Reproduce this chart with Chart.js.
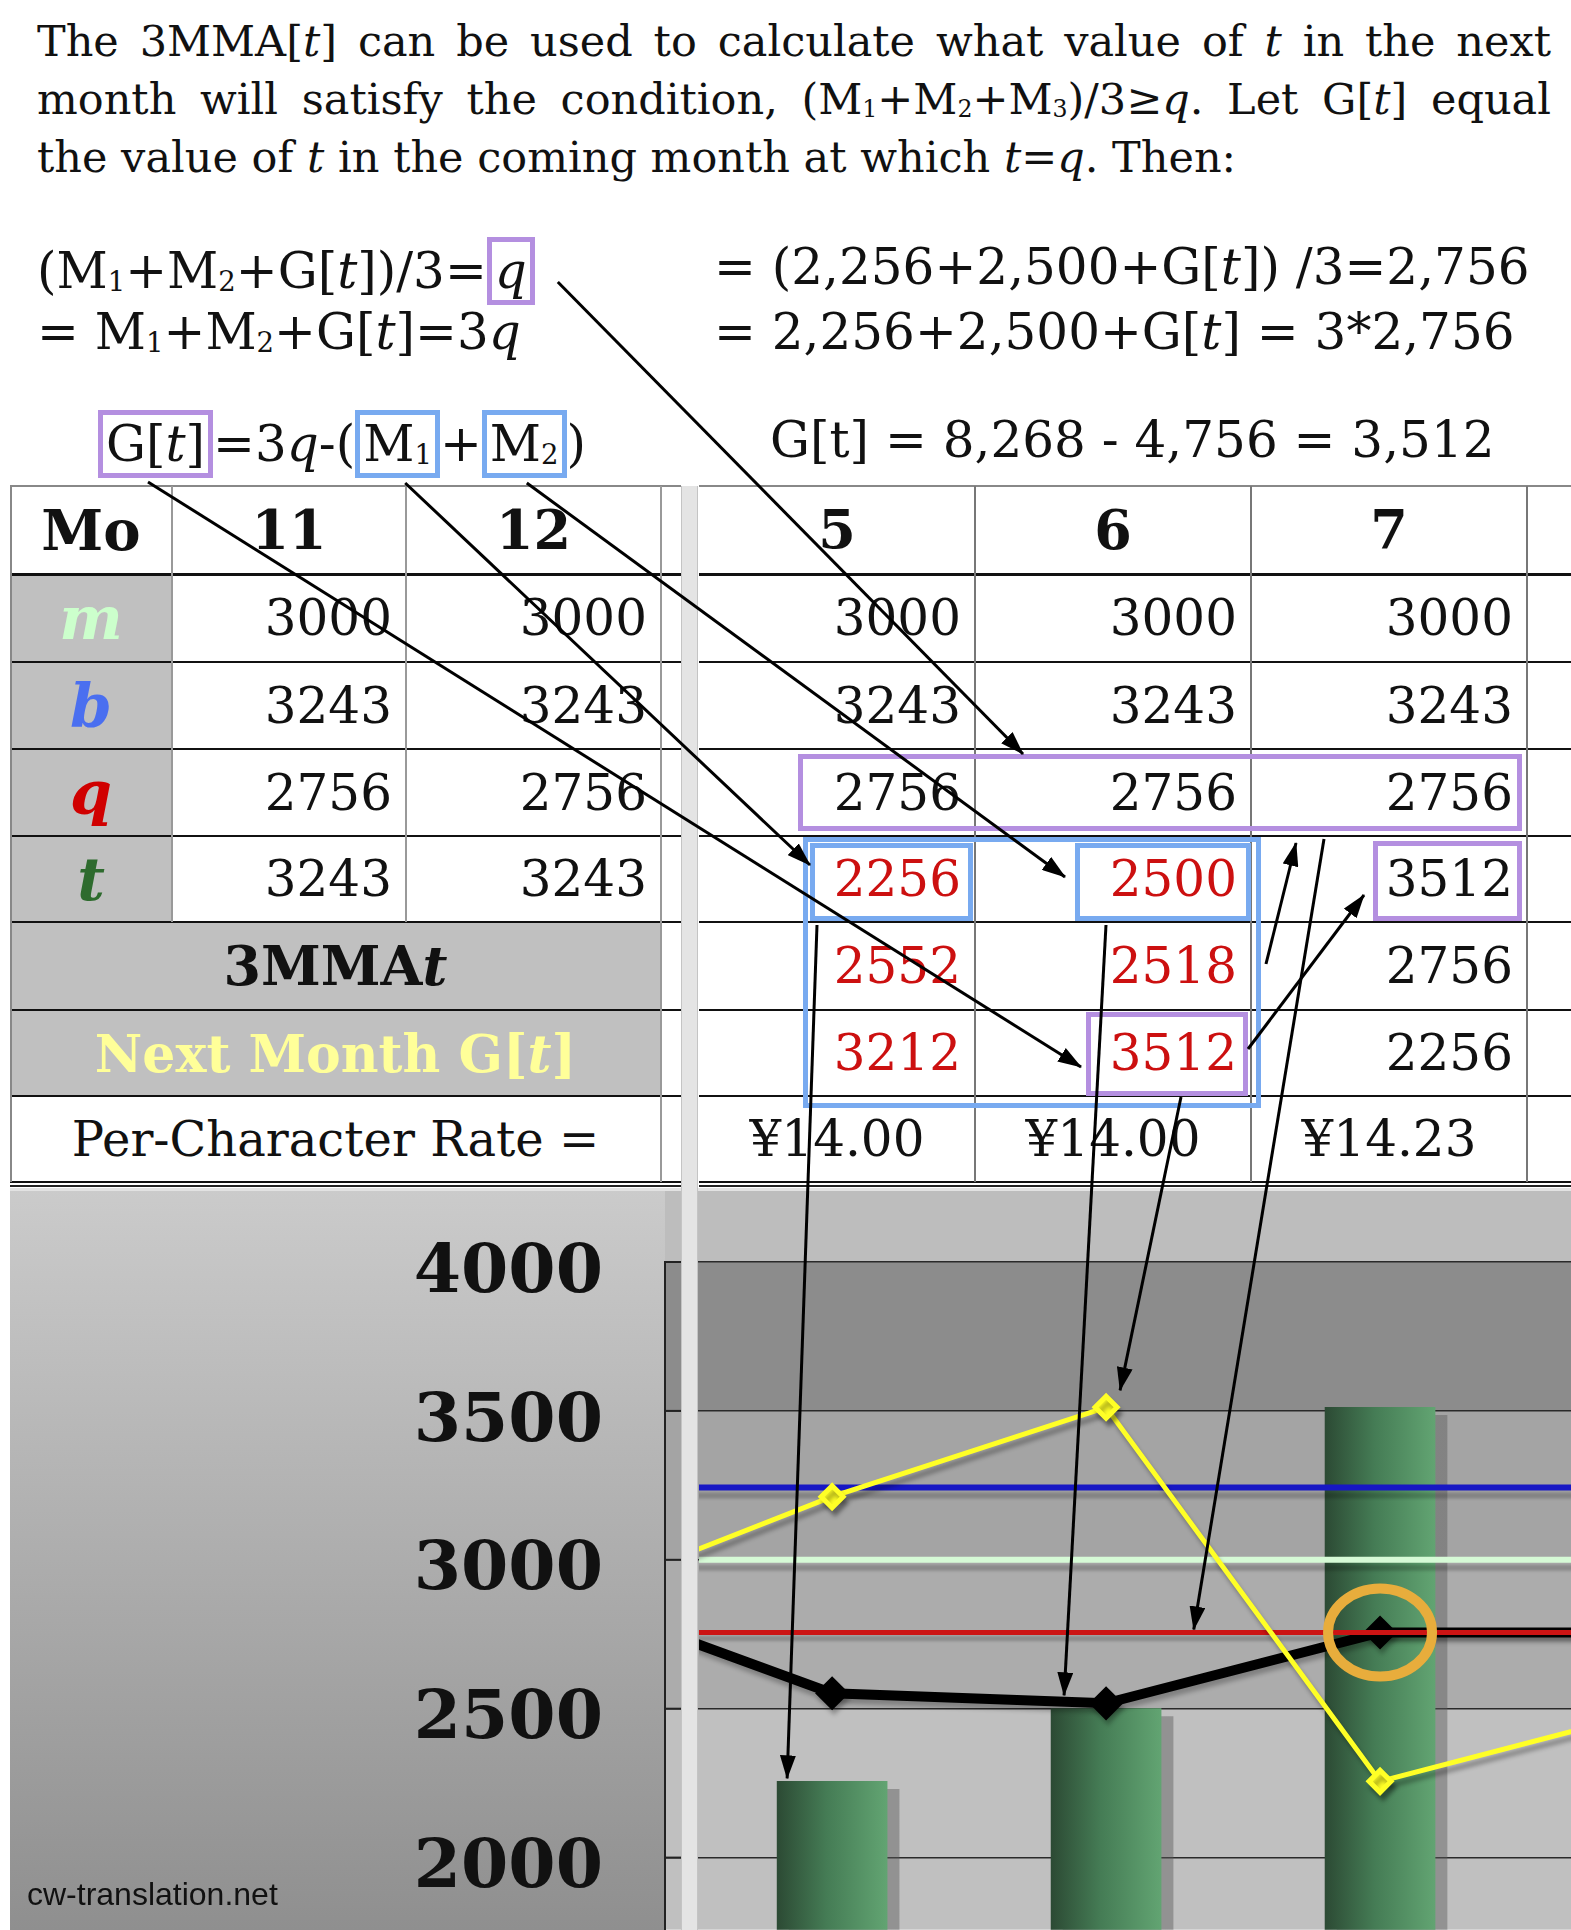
<!DOCTYPE html>
<html>
<head>
<meta charset="utf-8">
<title>3MMA next month target</title>
<script src="https://cdn.jsdelivr.net/npm/chart.js@4.4.1/dist/chart.umd.min.js"></script>
<style>
  html, body { margin: 0; padding: 0; }
  body { width: 1571px; height: 1930px; position: relative; overflow: hidden; background: #fff;
         font-family: "DejaVu Serif", serif; color: #111; }
  #intro { position: absolute; left: 37px; top: 12px; width: 1514px; font-size: 43px; line-height: 58px;
           text-align: justify; }
  sub { font-size: 0.55em; vertical-align: -0.12em; line-height: 0; }
  .eq { position: absolute; font-size: 50px; line-height: 60px; white-space: nowrap; }
  .pbox, .bbox { display: inline-block; border: 5px solid #b48fe0; padding: 0 3px; line-height: 58px; }
  .bbox { border-color: #78aaf0; }
  .cell { position: absolute; display: flex; align-items: center; box-sizing: border-box; white-space: nowrap; z-index: 2; }
  .hl { position: absolute; z-index: 3; }
  .note { position: absolute; box-sizing: border-box; border: 5px solid #b48fe0; z-index: 4; }
  .note.blue { border-color: #78aaf0; }
  #sep { position: absolute; left: 681px; top: 486px; width: 17px; height: 1444px; background: #e4e4e4;
         border-left: 1px solid #c4c4c4; border-right: 1px solid #c4c4c4; box-sizing: border-box; z-index: 5; }
  #chartBox { position: absolute; left: 10px; top: 1188px; width: 1561px; height: 742px; z-index: 1; }
  #mark { position: absolute; left: 27px; top: 1876px; font-family: "Liberation Sans", sans-serif; font-size: 32px;
          color: #111; z-index: 6; }
  #arrows { position: absolute; left: 0; top: 0; z-index: 10; pointer-events: none; }
</style>
</head>
<body>

<div id="intro">The 3MMA[<i>t</i>] can be used to calculate what value of <i>t</i> in the next month will satisfy the condition, (M<sub>1</sub>+M<sub>2</sub>+M<sub>3</sub>)/3≥<i>q</i>. Let G[<i>t</i>] equal the value of <i>t</i> in the coming month at which <i>t</i>=<i>q</i>. Then:</div>

<div class="eq" style="left:37px;top:237px">(M<sub>1</sub>+M<sub>2</sub>+G[<i>t</i>])/3=<span class="pbox" id="boxQ"><i>q</i></span></div>
<div class="eq" style="left:37px;top:302px">= M<sub>1</sub>+M<sub>2</sub>+G[<i>t</i>]=3<i>q</i></div>
<div class="eq" style="left:714px;top:237px">= (2,256+2,500+G[<i>t</i>]) /3=2,756</div>
<div class="eq" style="left:714px;top:302px">= 2,256+2,500+G[<i>t</i>] = 3*2,756</div>
<div class="eq" style="left:98px;top:410px"><span class="pbox" id="boxG">G[<i>t</i>]</span>=3<i>q</i>-(<span class="bbox" id="boxM1">M<sub>1</sub></span>+<span class="bbox" id="boxM2">M<sub>2</sub></span>)</div>
<div class="eq" style="left:770px;top:410px">G[t] = 8,268 - 4,756 = 3,512</div>

<div id="sep"></div>
<div id="chartBox"><canvas id="chart"></canvas></div>
<div id="mark">cw-translation.net</div>
<svg id="arrows" width="1571" height="1930"></svg>

<script>
// table values (months as they appear in the sheet)
var tableMonths = ['11', '12', '5', '6', '7'];
var mRow = [3000, 3000, 3000, 3000, 3000];
var bRow = [3243, 3243, 3243, 3243, 3243];
var qRow = [2756, 2756, 2756, 2756, 2756];
var tRow = [3243, 3243, 2256, 2500, 3512];
var mmaRow = [null, null, 2552, 2518, 2756];
var nextRow = [null, null, 3212, 3512, 2256];
var rateRow = [null, null, '¥14.00', '¥14.00', '¥14.23'];

// chart values (months 4..8, only 5-7 fully visible)
var chartMonths = [4, 5, 6, 7, 8];
var chartT = [null, 2256, 2500, 3512, null];
var chartMMA = [2888, 2552, 2518, 2756, 2756];
var chartNext = [2851, 3212, 3512, 2256, 2496];
var chartM = [3000, 3000, 3000, 3000, 3000];
var chartB = [3243, 3243, 3243, 3243, 3243];
var chartQ = [2756, 2756, 2756, 2756, 2756];
var yTicks = [2000, 2500, 3000, 3500, 4000];

// ---- table layout ----
var colL = [10, 172, 406, 661, 681];
var colR = [699, 975, 1251, 1527, 1571];
var rowY = [486, 574, 662, 749, 836, 922, 1010, 1096, 1182];
var redCols = [false, false, true, true, false];

function addDiv(cls, x, y, w, h, html, css) {
  var d = document.createElement('div');
  d.className = cls;
  d.style.left = x + 'px'; d.style.top = y + 'px';
  d.style.width = w + 'px'; d.style.height = h + 'px';
  for (var k in (css || {})) d.style[k] = css[k];
  if (html != null) d.innerHTML = html;
  document.body.appendChild(d);
  return d;
}
function colSpan(i) {
  return i < 2 ? [colL[i + 1], colL[i + 2]] : [colR[i - 2], colR[i - 1]];
}

// header row
addDiv('cell', colL[0], rowY[0], colL[1] - colL[0], rowY[1] - rowY[0], 'Mo',
  {justifyContent: 'center', fontSize: '56px', fontWeight: 'bold'});
tableMonths.forEach(function (mo, i) {
  var c = colSpan(i);
  addDiv('cell', c[0], rowY[0], c[1] - c[0], rowY[1] - rowY[0], mo,
    {justifyContent: 'center', fontSize: '54px', fontWeight: 'bold'});
});

var letterRows = [
  {label: 'm', color: '#ccffcc', vals: mRow},
  {label: 'b', color: '#4a6ff0', vals: bRow},
  {label: 'q', color: '#d00000', vals: qRow},
  {label: 't', color: '#2e6b2e', vals: tRow}
];
letterRows.forEach(function (r, k) {
  var y0 = rowY[k + 1], h = rowY[k + 2] - y0;
  addDiv('cell', colL[0], y0, colL[1] - colL[0], h, '<b><i>' + r.label + '</i></b>',
    {justifyContent: 'center', fontSize: '60px', color: r.color, background: '#c0c0c0'});
  r.vals.forEach(function (v, i) {
    var c = colSpan(i);
    var red = (r.label === 't' && redCols[i]);
    addDiv('cell', c[0], y0, c[1] - c[0], h, String(v),
      {justifyContent: 'flex-end', paddingRight: '14px', fontSize: '50px', color: red ? '#cc1010' : '#111'});
  });
});

var mergedRows = [
  {label: '<b>3MMA<i>t</i></b>', color: '#111', vals: mmaRow, bg: '#c0c0c0', size: '54px'},
  {label: '<b>Next Month G[<i>t</i>]</b>', color: '#ffff99', vals: nextRow, bg: '#c0c0c0', size: '52px'},
  {label: 'Per-Character Rate =', color: '#111', vals: rateRow, bg: '#fff', size: '48px'}
];
mergedRows.forEach(function (r, k) {
  var y0 = rowY[k + 5], h = rowY[k + 6] - y0;
  addDiv('cell', colL[0], y0, colL[3] - colL[0], h, r.label,
    {justifyContent: 'center', fontSize: r.size, color: r.color, background: r.bg});
  r.vals.forEach(function (v, i) {
    if (v == null) return;
    var c = colSpan(i);
    var isRate = typeof v === 'string';
    addDiv('cell', c[0], y0, c[1] - c[0], h, String(v), {
      justifyContent: isRate ? 'center' : 'flex-end', paddingRight: isRate ? '0' : '14px',
      fontSize: '50px', color: (!isRate && redCols[i]) ? '#cc1010' : '#111'});
  });
});

// grid lines of the sheet
addDiv('hl', colL[0], rowY[0] - 1, colL[4] - colL[0], 2, null, {background: '#888'});
addDiv('hl', colR[0], rowY[0] - 1, colR[4] - colR[0], 2, null, {background: '#888'});
for (var r = 1; r < rowY.length; r++) {
  var th = r === 1 ? 3 : 2;
  addDiv('hl', colL[0], rowY[r] - 1, colL[4] - colL[0], th, null, {background: '#111'});
  addDiv('hl', colR[0], rowY[r] - 1, colR[4] - colR[0], th, null, {background: '#111'});
}
addDiv('hl', colL[0], rowY[8] + 3, colL[4] - colL[0], 2, null, {background: '#222'});
addDiv('hl', colR[0], rowY[8] + 3, colR[4] - colR[0], 2, null, {background: '#222'});
addDiv('hl', colL[0], rowY[0], 2, rowY[8] - rowY[0], null, {background: '#888'});
[colL[1], colL[2]].forEach(function (x) {
  addDiv('hl', x - 1, rowY[0], 2, rowY[5] - rowY[0], null, {background: '#999'});
});
addDiv('hl', colL[3] - 1, rowY[0], 2, rowY[8] - rowY[0], null, {background: '#999'});
[colR[1], colR[2], colR[3]].forEach(function (x) {
  addDiv('hl', x - 1, rowY[0], 2, rowY[8] - rowY[0], null, {background: '#777'});
});

// highlight boxes drawn on the sheet
var notes = [
  {id: 'tbQ', cls: 'note', x0: 798, y0: 754, x1: 1522, y1: 831},
  {id: 'tbBlue', cls: 'note blue', x0: 803, y0: 837, x1: 1261, y1: 1108},
  {id: 'tb2256', cls: 'note blue', x0: 810, y0: 843, x1: 973, y1: 921},
  {id: 'tb2500', cls: 'note blue', x0: 1075, y0: 843, x1: 1251, y1: 921},
  {id: 'tb3512t', cls: 'note', x0: 1373, y0: 841, x1: 1522, y1: 921},
  {id: 'tb3512n', cls: 'note', x0: 1086, y0: 1012, x1: 1248, y1: 1096}
];
notes.forEach(function (n) {
  addDiv(n.cls, n.x0, n.y0, n.x1 - n.x0, n.y1 - n.y0).id = n.id;
});

// ---- chart ----
function pts(vals) {
  var out = [];
  vals.forEach(function (v, i) { if (v != null) out.push({x: chartMonths[i], y: v}); });
  return out;
}

var bands = [
  {from: 4000, to: 3500, color: '#8c8c8c'},
  {from: 3500, to: 3000, color: '#a4a4a4'},
  {from: 3000, to: 2500, color: '#acacac'},
  {from: 2500, to: 1000, color: '#c0c0c0'}
];

var backdrop = {
  id: 'backdrop',
  beforeDraw: function (chart) {
    var ctx = chart.ctx, a = chart.chartArea, y = chart.scales.y;
    ctx.save();
    var g = ctx.createLinearGradient(0, 0, 0, chart.height);
    g.addColorStop(0, '#cbcbcb');
    g.addColorStop(1, '#8f8f8f');
    ctx.fillStyle = g;
    ctx.fillRect(0, 0, a.left, chart.height);
    ctx.fillStyle = '#bdbdbd';
    ctx.fillRect(a.left, 0, chart.width - a.left, a.top);
    ctx.fillStyle = '#e2e2e2';
    ctx.fillRect(0, 0, chart.width, 3);
    bands.forEach(function (b) {
      var top = Math.max(a.top, y.getPixelForValue(b.from));
      var bot = Math.min(a.bottom, y.getPixelForValue(b.to));
      ctx.fillStyle = b.color;
      ctx.fillRect(a.left, top, a.right - a.left, bot - top);
    });
    ctx.restore();
  },
  afterDraw: function (chart) {
    var ctx = chart.ctx, a = chart.chartArea, y = chart.scales.y;
    ctx.save();
    ctx.strokeStyle = '#222';
    ctx.lineWidth = 2;
    yTicks.forEach(function (v) {
      var py = y.getPixelForValue(v);
      ctx.beginPath(); ctx.moveTo(a.left, py); ctx.lineTo(a.left + 16, py); ctx.stroke();
    });
    ctx.restore();
  }
};

var shadows = {
  id: 'shadows',
  beforeDatasetDraw: function (chart, args) {
    var ctx = chart.ctx, ds = chart.data.datasets[args.index];
    ctx.save();
    if (ds.shade) {
      ctx.shadowColor = ds.shade[0];
      ctx.shadowOffsetX = ds.shade[1];
      ctx.shadowOffsetY = ds.shade[2];
      ctx.shadowBlur = ds.shade[3];
    }
  },
  afterDatasetDraw: function (chart) { chart.ctx.restore(); }
};

var ring = {
  id: 'ring',
  afterDatasetsDraw: function (chart) {
    var ctx = chart.ctx;
    var px = chart.scales.x.getPixelForValue(chartMonths[3]);
    var py = chart.scales.y.getPixelForValue(chartMMA[3]);
    ctx.save();
    ctx.strokeStyle = '#e8ad3c';
    ctx.lineWidth = 10;
    ctx.beginPath();
    ctx.ellipse(px, py, 52, 44, 0, 0, Math.PI * 2);
    ctx.stroke();
    ctx.restore();
  }
};

var lineClip = {left: -34, top: 0, right: 0, bottom: 0};

var chart = new Chart(document.getElementById('chart'), {
  type: 'bar',
  data: {
    datasets: [
      {type: 'line', label: 'Next Month G[t]', data: pts(chartNext), borderColor: '#ffff26', borderWidth: 5,
       pointStyle: 'rectRot', pointRadius: 11, pointBackgroundColor: '#ffff26', pointBorderColor: '#ffff26',
       order: 1, clip: lineClip, shade: ['rgba(0,0,0,0.3)', 3, 6, 4]},
      {type: 'line', label: 'q', data: pts(chartQ), borderColor: '#cc1414', borderWidth: 5, pointRadius: 0,
       order: 3, clip: lineClip, shade: ['rgba(0,0,0,0.2)', 0, 6, 3]},
      {type: 'line', label: 'b', data: pts(chartB), borderColor: '#1717c4', borderWidth: 6, pointRadius: 0,
       order: 4, clip: lineClip, shade: ['rgba(0,0,0,0.2)', 0, 8, 3]},
      {type: 'line', label: 'm', data: pts(chartM), borderColor: '#d6fad6', borderWidth: 6, pointRadius: 0,
       order: 5, clip: lineClip, shade: ['rgba(0,0,0,0.2)', 0, 8, 3]},
      {type: 'line', label: '3MMA', data: pts(chartMMA), borderColor: '#000', borderWidth: 10,
       pointStyle: 'rectRot', pointRadius: 10, pointBackgroundColor: '#000', pointBorderColor: '#000',
       order: 6, clip: lineClip, shade: ['rgba(0,0,0,0.25)', 2, 5, 4]},
      {type: 'bar', label: 't', data: pts(chartT), barThickness: 110, order: 7,
       shade: ['rgba(90,90,90,0.45)', 12, 8, 0],
       backgroundColor: function (c) {
         var xs = c.chart.scales.x;
         if (!xs || !c.raw) return '#4a8a5a';
         var px = xs.getPixelForValue(c.raw.x);
         if (!isFinite(px)) return '#4a8a5a';
         var g = c.chart.ctx.createLinearGradient(px - 55, 0, px + 55, 0);
         g.addColorStop(0, '#2c4a34');
         g.addColorStop(0.45, '#457c55');
         g.addColorStop(1, '#62a472');
         return g;
       }}
    ]
  },
  options: {
    responsive: true,
    maintainAspectRatio: false,
    animation: false,
    layout: {autoPadding: false, padding: {top: 74, left: 0, right: 0, bottom: 0}},
    plugins: {legend: {display: false}, tooltip: {enabled: false}},
    scales: {
      x: {type: 'linear', min: 4.39, max: 7.697, offset: false, display: false, grid: {offset: false}},
      y: {
        min: 1758, max: 4000,
        afterFit: function (s) { s.width = 655; },
        afterBuildTicks: function (s) { s.ticks = yTicks.map(function (v) { return {value: v}; }); },
        ticks: {padding: 0, labelOffset: 12, color: '#111',
                font: {family: 'DejaVu Serif', size: 68, weight: 'bold', lineHeight: 0.01},
                callback: function (v) { return String(v); }},
        grid: {color: '#2a2a2a', lineWidth: 1.5, drawTicks: true, tickLength: 62, tickColor: 'rgba(0,0,0,0)'},
        border: {display: true, color: '#222', width: 2}
      }
    }
  },
  plugins: [backdrop, shadows, ring]
});

// ---- arrows ----
var svg = document.getElementById('arrows');
var NS = 'http://www.w3.org/2000/svg';
svg.innerHTML = '<defs><marker id="ah" markerWidth="24" markerHeight="16" refX="23" refY="8" orient="auto" ' +
  'markerUnits="userSpaceOnUse"><path d="M0,0 L24,8 L0,16 z" fill="#000"/></marker></defs>';

function box(id) { return document.getElementById(id).getBoundingClientRect(); }
var cv = document.getElementById('chart').getBoundingClientRect();
function cp(xv, yv, dx, dy) {
  return [cv.left + chart.scales.x.getPixelForValue(xv) + dx, cv.top + chart.scales.y.getPixelForValue(yv) + dy];
}

var Q = box('boxQ'), G = box('boxG'), M1 = box('boxM1'), M2 = box('boxM2');
var TQ = box('tbQ'), BL = box('tbBlue'), B1 = box('tb2256'), B2 = box('tb2500');
var T7 = box('tb3512t'), N6 = box('tb3512n');

var arrowList = [
  [[Q.right + 23, Q.top + 45], [TQ.left + 225, TQ.top]],
  [[G.left + 50, G.bottom + 4], [N6.left - 5, N6.top + 55]],
  [[M1.left + 50, M1.bottom + 5], [B1.left, B1.top + 22]],
  [[M2.left + 45, M2.bottom + 5], [B2.left - 10, B2.top + 34]],
  [[N6.right, N6.top + 37], [T7.left - 9, T7.top + 54]],
  [[BL.right + 5, BL.top + 127], [BL.right + 35, TQ.bottom + 12]],
  [[BL.right + 63, TQ.bottom + 8], cp(6.32, chartQ[2], 0, -3)],
  [[B1.left + 7, B1.bottom + 4], cp(chartMonths[1], chartT[1], -45, -3)],
  [[B2.left + 31, B2.bottom + 4], cp(chartMonths[2], chartMMA[2], -42, -8)],
  [[N6.left + 95, N6.bottom + 1], cp(chartMonths[2], chartNext[2], 14, -17)]
];
arrowList.forEach(function (a) {
  var l = document.createElementNS(NS, 'line');
  l.setAttribute('x1', a[0][0]); l.setAttribute('y1', a[0][1]);
  l.setAttribute('x2', a[1][0]); l.setAttribute('y2', a[1][1]);
  l.setAttribute('stroke', '#000'); l.setAttribute('stroke-width', '3');
  l.setAttribute('marker-end', 'url(#ah)');
  svg.appendChild(l);
});
</script>
</body>
</html>
